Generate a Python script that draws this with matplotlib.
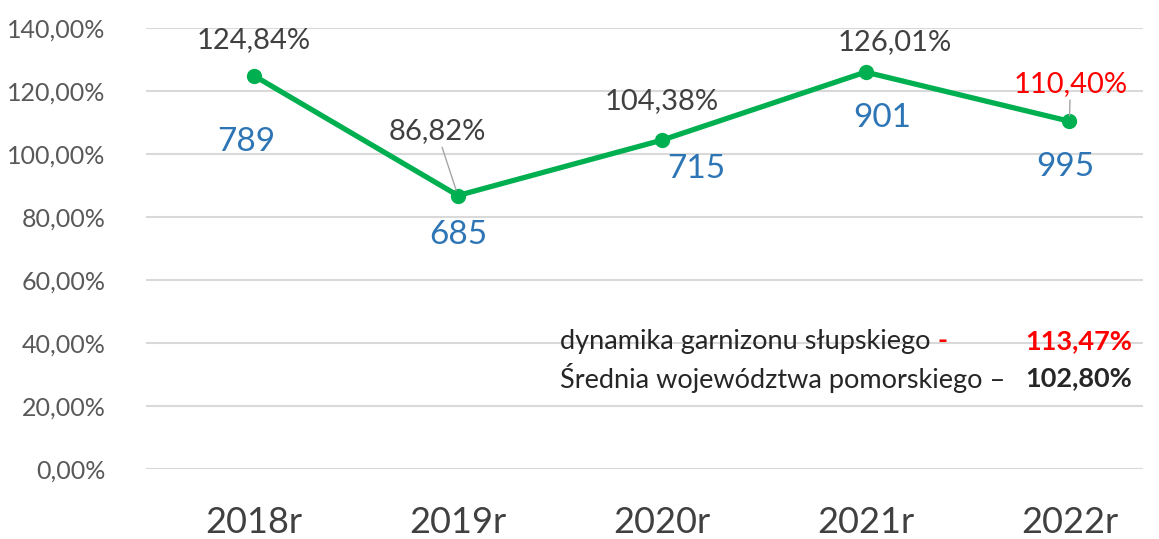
import matplotlib
matplotlib.use('Agg')
import matplotlib.pyplot as plt

# data
years = ['2018r', '2019r', '2020r', '2021r', '2022r']
dynamics = [124.84, 86.82, 104.38, 126.01, 110.40]
dyn_labels = ['124,84%', '86,82%', '104,38%', '126,01%', '110,40%']
counts = ['789', '685', '715', '901', '995']
yticks = [0, 20, 40, 60, 80, 100, 120, 140]
ytick_labels = ['0,00%', '20,00%', '40,00%', '60,00%', '80,00%', '100,00%', '120,00%', '140,00%']

plt.rcParams['font.family'] = ['Lato', 'DejaVu Sans']

fig = plt.figure(figsize=(11.59, 5.39), dpi=100)
ax = fig.add_axes([0.126, 0.130, 0.860, 0.818])

x = list(range(len(years)))
ax.plot(x, dynamics, color='#00B050', lw=3.8, marker='o', ms=10, zorder=3)

ax.set_xlim(-0.53, 4.36)
ax.set_ylim(0, 140)
ax.set_yticks(yticks)
ax.set_yticklabels(ytick_labels, fontsize=18, color='#595959')
ax.set_xticks(x)
ax.set_xticklabels(years, fontsize=26, color='#404040')
ax.tick_params(length=0)
ax.tick_params(axis='y', pad=29)
ax.tick_params(axis='x', pad=27)
ax.grid(axis='y', color='#D9D9D9', lw=1.5)
ax.set_axisbelow(True)
for s in ax.spines.values():
    s.set_visible(False)

# percent labels (offsets in pixels)
pct_off = [(0, 36), (-21, 64), (0, 39), (29, 30), (1, 37)]
pct_col = ['#404040', '#404040', '#404040', '#404040', '#FF0000']
leader = [False, True, False, False, True]
for i in range(len(years)):
    kw = {}
    if leader[i]:
        kw['arrowprops'] = dict(arrowstyle='-', color='#A6A6A6', lw=1,
                                shrinkA=0, shrinkB=4)
    ax.annotate(dyn_labels[i], (x[i], dynamics[i]), xytext=pct_off[i],
                textcoords='offset pixels', ha='center', va='center',
                fontsize=21, color=pct_col[i], **kw)

# counts
cnt_off = [(-8, -66), (0, -39), (35, -29), (17, -46), (-4, -46)]
for i in range(len(years)):
    ax.annotate(counts[i], (x[i], dynamics[i]), xytext=cnt_off[i],
                textcoords='offset pixels', ha='center', va='center',
                fontsize=24, color='#2E75B6')

# summary text
t1 = fig.text(0.483, 0.367, 'dynamika garnizonu słupskiego ', fontsize=19.5,
              color='#262626', va='center')
ax.annotate('-', xy=(1, 0.5), xycoords=t1, va='center', ha='left',
            fontsize=19.5, color='#FF0000', fontweight='bold')
fig.text(0.977, 0.367, '113,47%', fontsize=19.5, color='#FF0000', va='center',
         ha='right', fontweight='bold')
fig.text(0.483, 0.299, 'Średnia województwa pomorskiego –', fontsize=19.5,
         color='#262626', va='center')
fig.text(0.977, 0.299, '102,80%', fontsize=19.5, color='#262626', va='center',
         ha='right', fontweight='bold')

fig.savefig('out.png', dpi=100)
